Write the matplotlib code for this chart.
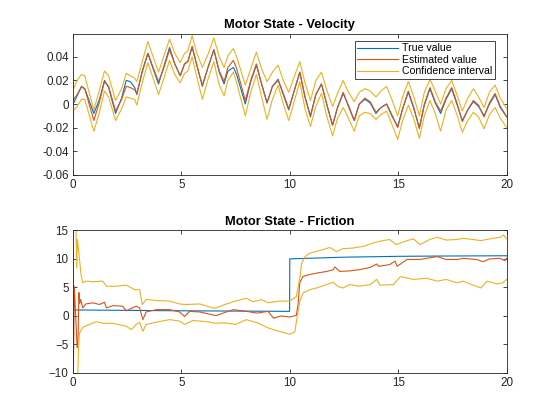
import numpy as np
import matplotlib
matplotlib.use("Agg")
import matplotlib.pyplot as plt

# ---- velocity ----
t_vel = [0, 0.04, 0.2, 0.4, 0.55, 0.97, 1.23, 1.46, 1.65, 1.97, 2.25, 2.46, 2.65, 2.85, 2.95,
         3.2, 3.46, 3.7, 3.95, 4.2, 4.46, 4.7, 4.95, 5.15, 5.3, 5.5, 5.7, 5.97, 6.23, 6.5,
         6.75, 6.97, 7.15, 7.4, 7.55, 7.95, 8.2, 8.46, 8.7, 8.95, 9.2, 9.46, 9.7, 9.95,
         10.2, 10.46, 10.7, 10.95, 11.2, 11.46, 11.7, 11.97, 12.2, 12.46, 12.7, 12.97,
         13.2, 13.46, 13.7, 13.97, 14.2, 14.46, 14.7, 14.97, 15.2, 15.46, 15.7, 15.97,
         16.2, 16.46, 16.7, 16.95, 17.2, 17.46, 17.7, 17.95, 18.2, 18.46, 18.7, 18.95,
         19.2, 19.46, 19.7, 20]
vel_true = [0.000, 0.001, 0.007, 0.015, 0.013, -0.008, 0.004, 0.020, 0.014, -0.008, 0.005, 0.020, 0.019, 0.014, 0.008,
            0.028, 0.043, 0.030, 0.017, 0.032, 0.048, 0.034, 0.024, 0.034, 0.036, 0.048, 0.034, 0.015, 0.031, 0.046,
            0.027, 0.017, 0.028, 0.031, 0.025, 0.000, 0.019, 0.033, 0.017, 0.001, 0.015, 0.021, 0.008, -0.005,
            0.011, 0.027, 0.006, -0.010, 0.008, 0.017, 0.000, -0.018, -0.003, 0.009, -0.001, -0.014,
            0.000, 0.004, 0.001, -0.008, -0.003, 0.000, -0.010, -0.019, -0.004, 0.010, -0.003, -0.020,
            -0.001, 0.013, 0.001, -0.008, 0.004, 0.013, 0.000, -0.014, -0.005, 0.002, -0.002, -0.010,
            0.000, 0.008, -0.003, -0.011]
vel_est = [0.003, 0.004, 0.008, 0.0145, 0.013, -0.014, 0.002, 0.019, 0.015, -0.006, 0.004, 0.015, 0.014, 0.012, 0.009,
           0.027, 0.043, 0.031, 0.019, 0.031, 0.046, 0.034, 0.024, 0.034, 0.036, 0.049, 0.034, 0.016, 0.031, 0.046,
           0.028, 0.019, 0.031, 0.037, 0.030, 0.003, 0.020, 0.034, 0.017, 0.001, 0.015, 0.020, 0.009, -0.004,
           0.011, 0.027, 0.006, -0.011, 0.008, 0.017, 0.000, -0.018, -0.003, 0.010, -0.002, -0.014,
           0.000, 0.005, 0.002, -0.007, -0.003, 0.000, -0.009, -0.020, -0.004, 0.011, -0.002, -0.021,
           0.000, 0.014, 0.002, -0.006, 0.005, 0.014, 0.001, -0.015, -0.005, 0.003, -0.001, -0.011,
           0.001, 0.009, -0.002, -0.011]
vel_upper = [0.033, 0.013, 0.020, 0.025, 0.024, -0.005, 0.012, 0.028, 0.024, 0.003, 0.013, 0.026, 0.024, 0.022, 0.019,
             0.036, 0.053, 0.040, 0.027, 0.041, 0.055, 0.043, 0.035, 0.043, 0.045, 0.058, 0.044, 0.031, 0.042, 0.056,
             0.040, 0.031, 0.041, 0.047, 0.040, 0.016, 0.030, 0.044, 0.030, 0.019, 0.027, 0.033, 0.020, 0.010,
             0.023, 0.036, 0.018, 0.003, 0.020, 0.027, 0.012, -0.002, 0.009, 0.020, 0.010, 0.002,
             0.010, 0.013, 0.011, 0.006, 0.011, 0.015, 0.004, -0.010, 0.006, 0.019, 0.007, -0.010,
             0.010, 0.021, 0.011, 0.000, 0.013, 0.020, 0.008, -0.006, 0.005, 0.013, 0.006, -0.003,
             0.010, 0.016, 0.005, -0.004]
vel_lower = [-0.026, -0.005, -0.002, 0.004, 0.004, -0.023, -0.007, 0.011, 0.006, -0.014, -0.004, 0.006, 0.005, 0.004, -0.001,
             0.018, 0.035, 0.022, 0.008, 0.022, 0.037, 0.025, 0.018, 0.026, 0.028, 0.040, 0.024, 0.004, 0.021, 0.036,
             0.016, 0.007, 0.020, 0.027, 0.018, -0.010, 0.010, 0.025, 0.006, -0.013, 0.004, 0.016, 0.000, -0.014,
             0.002, 0.019, -0.004, -0.019, -0.002, 0.009, -0.010, -0.027, -0.012, -0.003, -0.012, -0.023,
             -0.010, -0.007, -0.008, -0.013, -0.009, -0.006, -0.017, -0.030, -0.014, -0.001, -0.012, -0.029,
             -0.010, 0.003, -0.008, -0.023, -0.005, 0.003, -0.009, -0.024, -0.014, -0.007, -0.011, -0.021,
             -0.009, -0.003, -0.012, -0.020]

# ---- friction ----
t_fr_true = [0, 5, 9.99, 10.0, 12.5, 15, 17, 20]
fr_true = [1.05, 0.9, 0.8, 10.0, 10.3, 10.45, 10.5, 10.55]

t_fr_est = [0, 0.02, 0.07, 0.12, 0.2, 0.24, 0.28, 0.32, 0.36, 0.46, 0.6, 0.92, 1.23, 1.46, 1.55,
            1.85, 2.3, 2.46, 2.92, 3.08, 3.23, 3.38, 3.85, 4.46, 4.92, 5.15, 5.38, 5.85, 6.6, 7.0,
            7.4, 8.0, 8.5, 9.0, 9.25, 9.6, 10.0, 10.3, 10.38, 10.46, 10.6, 10.85, 11.23, 11.7,
            12.0, 12.07, 12.3, 12.77, 13.2, 13.7, 14.0, 14.1, 14.6, 14.85, 14.95, 15.4, 16.0,
            16.45, 16.8, 17.2, 17.7, 18.0, 18.6, 18.9, 19.2, 19.7, 19.9, 20]
fr_est = [30, -12, 5.2, 1.0, -5.6, -4.5, 4.1, 2.2, 2.9, 1.4, 2.1, 2.3, 2.0, 2.4, 1.4,
          1.8, 1.7, 0.9, 1.7, 1.4, -0.65, 0.7, 1.1, 1.1, 0.7, -0.1, 0.8, 0.7, 0.05, 0.6,
          1.1, 0.8, 0.5, 0.8, -0.4, 0.0, -0.2, 0.1, 2.0, 5.8, 6.9, 7.2, 7.5, 7.8,
          8.1, 8.6, 7.8, 7.9, 8.1, 8.5, 9.1, 8.7, 9.0, 9.6, 8.7, 9.9, 9.9,
          10.2, 10.4, 9.9, 9.9, 10.1, 9.9, 9.5, 10.0, 10.1, 9.7, 10.1]

t_fr_upper = [0, 0.15, 0.18, 0.21, 0.28, 0.38, 0.46, 0.6, 0.92, 1.38, 1.55, 2.0, 2.46, 2.85, 3.08,
              3.2, 3.38, 3.85, 4.46, 4.92, 5.23, 5.85, 6.46, 6.6, 7.0, 7.5, 8.0, 8.3, 8.7, 9.0,
              9.5, 10.0, 10.3, 10.46, 10.55, 10.7, 10.92, 11.5, 11.84, 12.15, 12.45, 12.9, 13.4,
              13.85, 14.15, 14.6, 14.9, 15.4, 15.7, 16.0, 16.45, 16.8, 17.2, 17.7, 18.0, 18.45,
              18.8, 19.2, 19.7, 19.85, 20]
fr_upper = [60, 14.5, 8.4, 13.4, 11.0, 7.2, 5.8, 6.1, 6.0, 6.1, 5.2, 5.2, 5.4, 4.6, 4.6,
            2.0, 2.9, 2.7, 2.6, 2.1, 2.0, 2.1, 1.4, 1.4, 2.0, 2.6, 3.1, 2.5, 2.85, 2.3,
            2.6, 2.6, 3.4, 6.6, 9.3, 10.4, 11.0, 11.6, 12.0, 11.3, 11.8, 11.9, 12.2,
            12.8, 13.1, 13.4, 12.5, 13.2, 13.5, 12.5, 13.4, 13.8, 13.3, 13.4, 13.6, 13.4,
            13.2, 13.5, 13.8, 14.2, 13.5]

t_fr_lower = [0, 0.22, 0.27, 0.31, 0.46, 0.77, 1.08, 1.4, 1.85, 2.46, 2.7, 2.92, 3.08, 3.23,
              3.38, 3.85, 4.46, 4.92, 5.15, 5.54, 6.15, 6.6, 7.0, 7.5, 8.0, 8.5, 9.0, 9.5,
              10.0, 10.23, 10.46, 10.6, 10.92, 11.23, 11.7, 12.0, 12.2, 12.45, 12.77, 13.2,
              13.7, 14.0, 14.15, 14.77, 15.1, 15.7, 16.3, 16.8, 17.2, 17.7, 18.0, 18.3,
              18.8, 19.1, 19.55, 19.8, 20]
fr_lower = [-60, -12, -5.0, -3.0, -2.0, -1.5, -1.0, -1.3, -1.3, -1.8, -2.4, -1.5, -1.1, -2.7,
            -1.5, -1.1, -0.65, -0.9, -1.5, -0.8, -1.0, -1.3, -1.2, -1.5, -0.65, -1.2, -2.1, -2.7,
            -3.2, -2.8, 2.6, 4.0, 4.6, 4.9, 5.5, 5.9, 5.2, 4.9, 5.5, 5.2,
            5.5, 6.4, 5.4, 5.5, 6.9, 6.4, 6.6, 6.1, 6.4, 5.8, 6.1, 5.6,
            4.9, 6.1, 5.6, 5.8, 6.4]

c_true = '#0072BD'
c_est = '#D95319'
c_ci = '#EDB120'
ax_col = '#262626'

plt.rcParams['font.family'] = ['Liberation Sans', 'DejaVu Sans']

fig = plt.figure(figsize=(5.6, 4.2), dpi=100)
ax1 = fig.add_axes([0.13, 0.5838, 0.775, 0.3362])
ax2 = fig.add_axes([0.13, 0.112, 0.775, 0.3395])

lw = 0.8
ax1.plot(t_vel, vel_true, color=c_true, lw=lw, label='True value')
ax1.plot(t_vel, vel_est, color=c_est, lw=lw, label='Estimated value')
ax1.plot(t_vel, vel_upper, color=c_ci, lw=lw, label='Confidence interval')
ax1.plot(t_vel, vel_lower, color=c_ci, lw=lw)
ax1.set_xlim(0, 20)
ax1.set_ylim(-0.06, 0.0597)
ax1.set_yticks([-0.06, -0.04, -0.02, 0, 0.02, 0.04])
ax1.set_yticklabels(['-0.06', '-0.04', '-0.02', '0', '0.02', '0.04'])
ax1.set_title('Motor State - Velocity', fontsize=9.3, fontweight='bold', pad=4)

leg = ax1.legend(loc='upper right', bbox_to_anchor=(0.972, 0.95), fontsize=7.6,
                 frameon=True, fancybox=False, framealpha=1, edgecolor=ax_col,
                 borderaxespad=0, borderpad=0.25, labelspacing=0.15,
                 handlelength=3.8, handletextpad=0.4)
leg.get_frame().set_linewidth(0.6)

ax2.plot(t_fr_true, fr_true, color=c_true, lw=lw)
ax2.plot(t_fr_est, fr_est, color=c_est, lw=lw)
ax2.plot(t_fr_upper, fr_upper, color=c_ci, lw=lw)
ax2.plot(t_fr_lower, fr_lower, color=c_ci, lw=lw)
ax2.set_xlim(0, 20)
ax2.set_ylim(-10, 15)
ax2.set_yticks([-10, -5, 0, 5, 10, 15])
ax2.set_title('Motor State - Friction', fontsize=9.3, fontweight='bold', pad=4)

for ax in (ax1, ax2):
    ax.set_xticks([0, 5, 10, 15, 20])
    ax.tick_params(direction='in', length=3.2, width=0.6, labelsize=8.4, colors=ax_col,
                   top=True, right=True, pad=3)
    for s in ax.spines.values():
        s.set_linewidth(0.6)
        s.set_color(ax_col)

fig.savefig('out.png', dpi=100)
